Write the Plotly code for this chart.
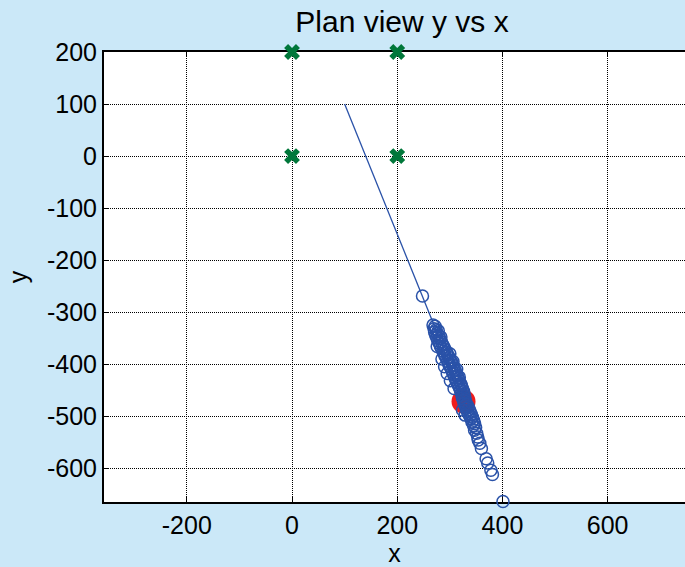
import plotly.graph_objects as go

# Reference markers (green crosses)
ref_x = [0, 200, 0, 200]
ref_y = [200, 200, 0, 0]

# Trajectory line
line_x = [100, 330]
line_y = [100, -475]

# Measured positions (blue open circles), as (x, y) pairs
pos_xy = [
    (248, -269),
    (268, -325), (272, -327), (270, -332), (274, -334), (271, -338), (276, -341), (273, -344),
    (279, -346), (275, -349), (281, -351), (277, -355), (284, -357), (280, -360), (286, -362),
    (282, -365), (289, -367), (284, -370), (291, -372), (287, -375), (294, -377), (289, -380),
    (296, -382), (291, -385), (299, -387), (294, -390), (301, -392), (296, -395), (304, -397),
    (298, -400), (306, -402), (300, -405), (308, -407), (303, -410), (310, -412), (305, -415),
    (312, -417), (307, -420), (314, -422), (309, -425), (316, -427), (311, -430), (318, -432),
    (313, -435), (320, -437), (316, -440), (322, -442), (318, -445), (324, -447), (320, -450),
    (326, -452), (322, -455), (327, -457), (323, -460), (328, -462), (324, -465), (329, -467),
    (326, -470), (330, -472), (327, -475), (332, -477), (329, -480), (335, -482), (331, -485),
    (337, -487), (333, -490), (339, -492), (335, -495), (341, -497), (338, -500), (343, -502),
    (340, -505), (345, -508), (342, -511), (347, -514), (345, -518), (349, -522), (347, -527),
    (351, -533), (353, -540), (354, -546), (357, -552), (360, -562), (369, -582), (372, -590),
    (378, -604), (381, -612), (401, -664),
    (300, -380), (285, -390), (306, -395), (290, -405), (313, -410), (295, -418), (318, -425),
    (301, -432), (322, -440), (308, -447), (324, -488), (329, -498), (278, -336), (283, -348),
    (276, -366),
]
pos_x = [p[0] for p in pos_xy]
pos_y = [p[1] for p in pos_xy]

# Estimated position (red dot)
est_x = [326]
est_y = [-472]

# Axis ticks
x_ticks = [-200, 0, 200, 400, 600]
y_ticks = [200, 100, 0, -100, -200, -300, -400, -500, -600]

BLUE = "#2a52a8"
BG = "#cbe8f8"
fig = go.Figure()
fig.add_trace(go.Scatter(x=line_x, y=line_y, mode="lines",
                         line=dict(color=BLUE, width=1.3), showlegend=False))
fig.add_trace(go.Scatter(x=est_x, y=est_y, mode="markers",
                         marker=dict(color="#ee1c1c", size=24, line=dict(width=0)),
                         showlegend=False, cliponaxis=False))
fig.add_trace(go.Scatter(x=pos_x, y=pos_y, mode="markers",
                         marker=dict(symbol="circle-open", color=BLUE, size=12,
                                     line=dict(width=1.5, color=BLUE)),
                         showlegend=False, cliponaxis=False))
fig.add_trace(go.Scatter(x=ref_x, y=ref_y, mode="markers",
                         marker=dict(symbol="x", color="#00773a", size=14, line=dict(width=0)),
                         showlegend=False, cliponaxis=False))

FONT = "Liberation Sans, Arial, sans-serif"
fig.update_layout(
    width=685, height=567,
    paper_bgcolor=BG, plot_bgcolor="white",
    margin=dict(l=104, r=0, t=52, b=65, autoexpand=False),
    font=dict(family=FONT, size=25, color="black"),
    title=dict(text="Plan view y vs x", font=dict(size=30, family=FONT),
               xref="container", x=402 / 685, xanchor="center",
               yref="container", y=1 - 21 / 567, yanchor="middle"),
    xaxis=dict(range=[-357.4, 747], tickvals=x_ticks, ticktext=[str(v) for v in x_ticks],
               showgrid=True, gridcolor="black", griddash="1px,1px", gridwidth=1,
               zeroline=False, showline=True, linecolor="black", linewidth=2,
               mirror="ticks", ticks="inside", ticklen=5, tickcolor="black",
               ticklabelstandoff=0, layer="below traces", automargin=False,
               title=dict(text="x", standoff=2, font=dict(size=25))),
    yaxis=dict(range=[-665, 200], tickvals=y_ticks, ticktext=[str(v) for v in y_ticks],
               showgrid=True, gridcolor="black", griddash="1px,1px", gridwidth=1,
               zeroline=False, showline=True, linecolor="black", linewidth=2,
               mirror=False, ticks="inside", ticklen=5, tickcolor="black",
               ticklabelstandoff=0, layer="below traces", automargin=False,
               title=dict(text="y", standoff=12, font=dict(size=25))),
)
fig.write_html(
    "out.html",
    config={"displayModeBar": False},
    post_script="document.body.style.margin='0';document.body.style.overflow='hidden';"
                "document.body.style.background='" + BG + "';",
)
